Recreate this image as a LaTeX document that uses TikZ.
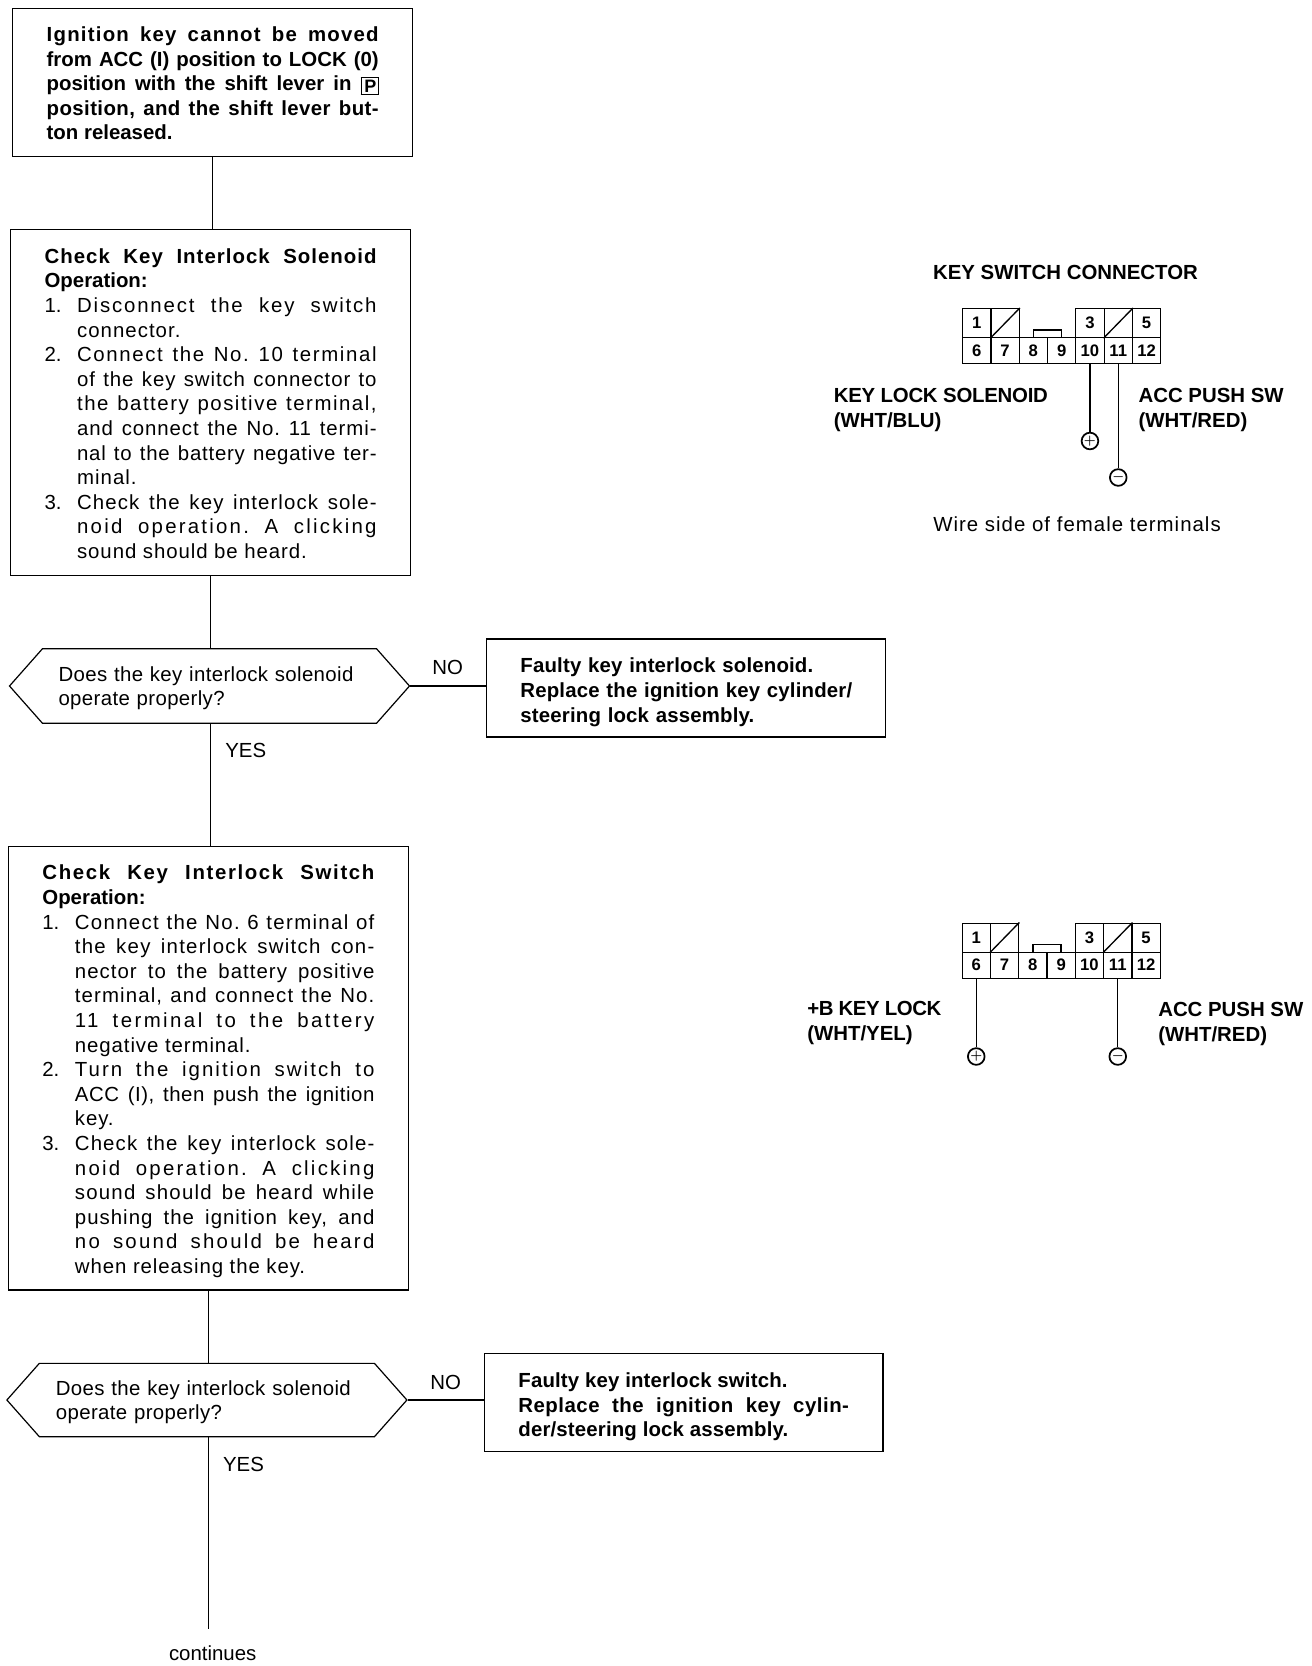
\documentclass[tikz,border=0pt]{standalone}
\usepackage{fontspec}
\setmainfont{Liberation Sans}
\usetikzlibrary{shapes.symbols,positioning}
\newcommand{\basefont}{\fontsize{15.3}{18.45}\selectfont\sloppy\frenchspacing}
\newcommand{\stepitem}[2]{\hangindent=24.4pt\hangafter=1\noindent\makebox[24.4pt][l]{#1}#2\par}
\newcommand{\spaced}[2]{{\addfontfeature{LetterSpace=#1}#2}}
\newcommand{\topgap}[1]{\rule{0pt}{#1}}
\newcommand{\boxedP}{\raisebox{-1pt}{\fboxsep=1.4pt\fbox{\hspace{1pt}\fontsize{13.5}{13.5}\selectfont\bfseries P}}}
\tikzset{
  plain/.style={font=\basefont, inner sep=0pt},
  boldtext/.style={font=\basefont\bfseries},
  stepbox/.style={plain, draw, line width=0.9pt, inner xsep=25.5pt, text width=249pt, align=justify},
  askbox/.style={plain, draw, line width=0.9pt, signal, signal to=west and east, signal pointer angle=97,
    minimum width=300pt, minimum height=55.8pt, text width=226.5pt, align=left},
  pincell/.style={font=\fontsize{12.5}{14}\selectfont\bfseries, draw, line width=0.9pt, inner sep=0pt,
    minimum width=21.22pt, anchor=north west},
  pinhead/.style={draw, circle, line width=1.3pt, inner sep=0pt, minimum size=12.5pt, font=\boldmath},
  wire/.style={line width=1pt},
}
% one connector face, cell width 28.3
\newcommand{\pinblock}{
  \foreach \pin/\col in {6/0,7/1,8/2,9/3,10/4,11/5,12/6}
    \node [pincell, minimum height=19.5pt] (\pin) at (\col*28.3,29) {\pin};
  \foreach \pin/\col/\txt in {t1/0/1,t7/1/,t3/4/3,t11/5/,t5/6/5}
    \node [pincell, minimum height=21.75pt] (\pin) at (\col*28.3,0) {\txt};
  \draw [wire] (t7.south west) -- (t7.north east);
  \draw [wire] (t11.south west) -- (t11.north east);
  \draw [wire] (8.north) -- ++(0,-7) -| (9.north);
}
\begin{document}
\begin{tikzpicture}[x=0.75pt, y=-0.75pt]
  \useasboundingbox (0,0) rectangle (1312,1666);
  \node [stepbox, boldtext, minimum height=111pt] (trouble) at (212.7,82.4) {%
    \topgap{12.6pt}\spaced{6}{Ignition key cannot be moved}\linebreak
    from ACC (I) position to LOCK (0)\linebreak
    position with the shift lever in \boxedP\linebreak
    \spaced{2}{position, and the shift lever but-}\linebreak
    ton released.};
  \node [stepbox, minimum height=259.2pt] (solenoid) at (210.6,402.5) {%
    {\bfseries\topgap{12.6pt}\spaced{5}{Check Key Interlock Solenoid}\linebreak Operation:\par}
    \stepitem{1.}{\spaced{9}{Disconnect the key switch}\linebreak \spaced{5}{connector.}}
    \stepitem{2.}{\spaced{8}{Connect the No. 10 terminal}\linebreak
      \spaced{4.5}{of the key switch connector to}\linebreak
      \spaced{7.5}{the battery positive terminal,}\linebreak
      \spaced{4.5}{and connect the No. 11 termi-}\linebreak
      \spaced{3.8}{nal to the battery negative ter-}\linebreak
      \spaced{5}{minal.}}
    \stepitem{3.}{\spaced{5.5}{Check the key interlock sole-}\linebreak
      \spaced{11}{noid operation. A clicking}\linebreak
      \spaced{4.5}{sound should be heard.}}};
  \node [askbox] (ask1) at (209.5,686) {\topgap{14.2pt}\spaced{1.8}{Does the key interlock solenoid}\\\spaced{1.8}{operate properly?}};
  \node [stepbox, boldtext, minimum height=73.4pt, text width=248pt, align=left] (fault1) at (685.8,688) {%
    \topgap{17.5pt}\spaced{0.8}{Faulty key interlock solenoid.}\\
    \mbox{\spaced{0.8}{Replace the ignition key cylinder/}}\\
    \spaced{0.8}{steering lock assembly.}};
  \node [stepbox, minimum height=332.6pt] (switch) at (208.4,1068.3) {%
    {\bfseries\topgap{15.8pt}\spaced{8}{Check Key Interlock Switch}\linebreak Operation:\par}
    \stepitem{1.}{\spaced{6.5}{Connect the No. 6 terminal of}\linebreak
      \spaced{6.3}{the key interlock switch con-}\linebreak
      \spaced{5}{nector to the battery positive}\linebreak
      \spaced{5.5}{terminal, and connect the No.}\linebreak
      \spaced{12}{11 terminal to the battery}\linebreak
      \spaced{4.5}{negative terminal.}}
    \stepitem{2.}{\spaced{10}{Turn the ignition switch to}\linebreak
      \spaced{2.7}{ACC (I), then push the ignition}\linebreak
      \spaced{4.5}{key.}}
    \stepitem{3.}{\spaced{5.5}{Check the key interlock sole-}\linebreak
      \spaced{11}{noid operation. A clicking}\linebreak
      \spaced{6}{sound should be heard while}\linebreak
      \spaced{5}{pushing the ignition key, and}\linebreak
      \spaced{11}{no sound should be heard}\linebreak
      \spaced{4.5}{when releasing the key.}}};
  \node [askbox, minimum height=55pt] (ask2) at (206.9,1400) {\topgap{14.2pt}\spaced{1.8}{Does the key interlock solenoid}\\\spaced{1.8}{operate properly?}};
  \node [stepbox, boldtext, minimum height=73.4pt, text width=248pt] (fault2) at (683.7,1402.8) {%
    \topgap{17.5pt}\spaced{0.8}{Faulty key interlock switch.}\hfill\mbox{}\linebreak
    \spaced{2.5}{Replace the ignition key cylin-}\linebreak
    \spaced{0.8}{der/steering lock assembly.}};
  \node [plain] (no1) at (447.7,667.9) {NO};
  \node [plain] (yes1) at (245.7,750.8) {YES};
  \node [plain] (no2) at (445.6,1382.6) {NO};
  \node [plain] (yes2) at (243.5,1464.5) {YES};
  \node [plain] (cont) at (212.7,1652.8) {continues};
  \coordinate (end) at (208.4,1629);
  \draw [wire] (trouble.south) -- (trouble.south |- solenoid.north);
  \draw [wire] (solenoid.south) -- (solenoid.south |- ask1.north);
  \draw [wire] (solenoid.south |- ask1.south) -- (solenoid.south |- switch.north);
  \draw [wire] (ask1.east) -- (ask1.east -| fault1.west);
  \draw [wire] (switch.south) -- (switch.south |- ask2.north);
  \draw [wire] (switch.south |- ask2.south) -- (end);
  \draw [wire] (ask2.east) -- (ask2.east -| fault2.west);
  % upper connector
  \begin{scope}[shift={(962,308)}, name prefix=a-]
    \pinblock
  \end{scope}
  \node [plain, boldtext, anchor=base west] (head) at (932.8,279.3) {KEY SWITCH CONNECTOR};
  \node [plain, boldtext, align=left, anchor=west] (lock) at (833.5,410) {\spaced{-1.2}{KEY LOCK SOLENOID}\\(WHT/BLU)};
  \node [plain, boldtext, align=left, anchor=west] (push) at (1138.3,410) {ACC PUSH SW\\(WHT/RED)};
  \node [plain, anchor=base west] (side) at (933,531.7) {\spaced{5}{Wire side of female terminals}};
  \node [pinhead] (plus1) at (a-10 |- 0,441) {$+$};
  \node [pinhead] (minus1) at (a-11 |- 0,477.5) {$-$};
  \draw [wire] (a-10.south) -- (plus1);
  \draw [wire] (a-11.south) -- (minus1);
  % lower connector
  \begin{scope}[shift={(961.5,922.5)}, name prefix=b-]
    \pinblock
  \end{scope}
  \node [plain, boldtext, align=left, anchor=west] (bat) at (807,1022.7) {\spaced{-2.2}{+B KEY LOCK}\\(WHT/YEL)};
  \node [plain, boldtext, align=left, anchor=west] (push2) at (1158,1024) {ACC PUSH SW\\(WHT/RED)};
  \node [pinhead] (plus2) at (b-6 |- 0,1056.5) {$+$};
  \node [pinhead] (minus2) at (b-11 |- 0,1056.5) {$-$};
  \draw [wire] (b-6.south) -- (plus2);
  \draw [wire] (b-11.south) -- (minus2);
\end{tikzpicture}
\end{document}
